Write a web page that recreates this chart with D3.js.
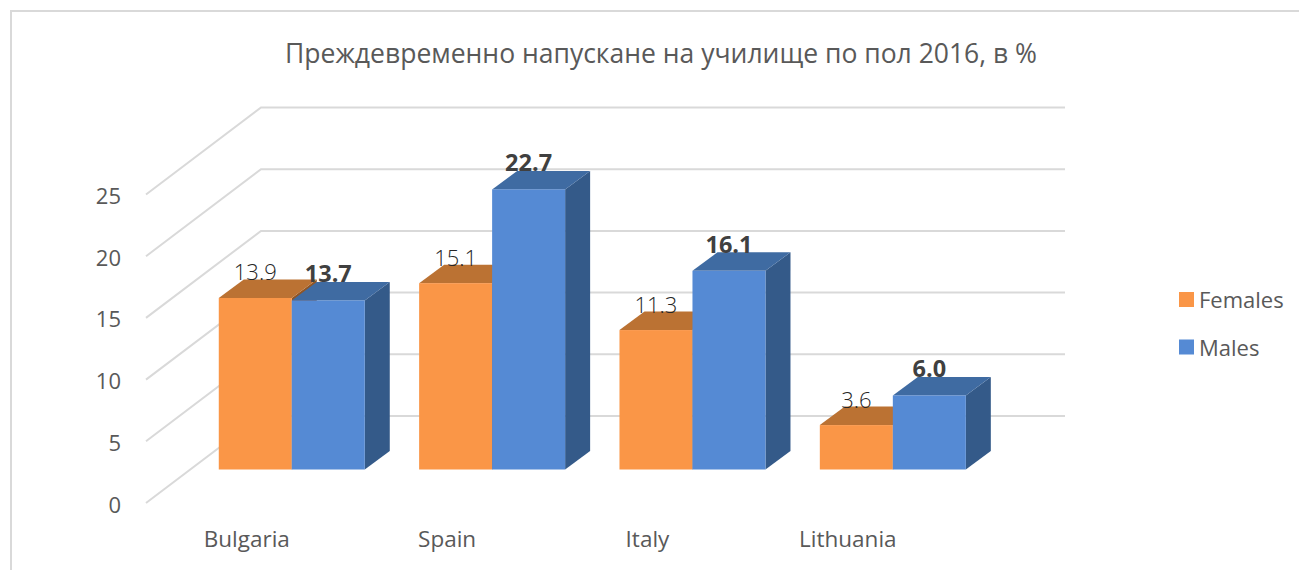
<!DOCTYPE html>
<html>
<head>
<meta charset="utf-8">
<script src="https://cdn.jsdelivr.net/npm/d3@7"></script>
<style>
    html, body { margin: 0; padding: 0; background: #fff; }
    text { font-family: "Open Sans", sans-serif; }
</style>
</head>
<body>
<div id="chart"></div>
<script>
var chartTitle = 'Преждевременно напускане на училище по пол 2016, в %';
var countries = ['Bulgaria', 'Spain', 'Italy', 'Lithuania'];
var females = [13.9, 15.1, 11.3, 3.6];
var males = [13.7, 22.7, 16.1, 6.0];
var seriesNames = ['Females', 'Males'];
var yTicks = [0, 5, 10, 15, 20, 25];

var width = 1299, height = 570;

// front plane of the fake 3d box, the wall sits depth px behind it
var depth = { x: 115, y: -87 };
// bars stand this far back on the floor, and are barDepth deep
var barOffset = { x: 45, y: -33.5 };
var barDepth = { x: 25, y: -18.5 };

var y = d3.scaleLinear().domain([0, 25]).range([503, 194.5]);
var x0 = d3.scaleBand().domain(countries).range([146.6, 948]).padding(0);
var x1 = d3.scaleBand().domain(seriesNames).range([0, 146]);

var colors = {
    Females: { front: '#fa9647', top: '#bb7233', side: '#8f5526' },
    Males: { front: '#558ad4', top: '#3f6ba2', side: '#345a89' }
};

var svg = d3.select('#chart').append('svg')
    .attr('width', width)
    .attr('height', height)
    .style('display', 'block');

// outer chart frame, cropped by the screenshot on right and bottom
svg.append('rect')
    .attr('x', 11)
    .attr('y', 11)
    .attr('width', width)
    .attr('height', height)
    .attr('fill', '#fff')
    .attr('stroke', '#d9d9d9')
    .attr('stroke-width', 2);

svg.append('text')
    .attr('x', 661)
    .attr('y', 63)
    .attr('text-anchor', 'middle')
    .attr('font-size', 26.5)
    .attr('fill', '#595959')
    .text(chartTitle);

// gridlines: diagonal on the side wall, then flat along the back wall
var grid = svg.append('g');
grid.selectAll('path')
    .data(yTicks)
    .enter().append('path')
    .attr('d', function (d) {
        var p = d3.path();
        p.moveTo(146, y(d));
        p.lineTo(146 + depth.x, y(d) + depth.y);
        p.lineTo(1065, y(d) + depth.y);
        return p.toString();
    })
    .attr('fill', 'none')
    .attr('stroke', '#d9d9d9')
    .attr('stroke-width', 2);

svg.append('g').selectAll('text')
    .data(yTicks)
    .enter().append('text')
    .attr('x', 121)
    .attr('y', function (d) { return y(d) + 9.5; })
    .attr('text-anchor', 'end')
    .attr('font-size', 22)
    .attr('fill', '#595959')
    .text(function (d) { return d; });

svg.append('g').selectAll('text')
    .data(countries)
    .enter().append('text')
    .attr('x', function (d) { return x0(d) + x0.bandwidth() / 2; })
    .attr('y', 547)
    .attr('text-anchor', 'middle')
    .attr('font-size', 22.5)
    .attr('fill', '#595959')
    .text(function (d) { return d; });

var rows = [];
countries.forEach(function (c, i) {
    rows.push({ country: c, series: 'Females', value: females[i] });
    rows.push({ country: c, series: 'Males', value: males[i] });
});

function barLeft(d) {
    return x0(d.country) + (x0.bandwidth() - x1.range()[1]) / 2 + x1(d.series) + barOffset.x;
}

var bars = svg.append('g').selectAll('g')
    .data(rows)
    .enter().append('g');

// side face
bars.append('path')
    .attr('d', function (d) {
        var r = barLeft(d) + x1.bandwidth();
        var b = y(0) + barOffset.y;
        var t = y(d.value) + barOffset.y;
        return 'M' + r + ',' + b + 'L' + r + ',' + t +
            'L' + (r + barDepth.x) + ',' + (t + barDepth.y) +
            'L' + (r + barDepth.x) + ',' + (b + barDepth.y) + 'Z';
    })
    .attr('fill', function (d) { return colors[d.series].side; });

// top face
bars.append('path')
    .attr('d', function (d) {
        var l = barLeft(d);
        var r = l + x1.bandwidth();
        var t = y(d.value) + barOffset.y;
        return 'M' + l + ',' + t + 'L' + r + ',' + t +
            'L' + (r + barDepth.x) + ',' + (t + barDepth.y) +
            'L' + (l + barDepth.x) + ',' + (t + barDepth.y) + 'Z';
    })
    .attr('fill', function (d) { return colors[d.series].top; });

// front face
bars.append('rect')
    .attr('x', barLeft)
    .attr('y', function (d) { return y(d.value) + barOffset.y; })
    .attr('width', x1.bandwidth())
    .attr('height', function (d) { return y(0) - y(d.value); })
    .attr('fill', function (d) { return colors[d.series].front; });

svg.append('g').selectAll('text')
    .data(rows)
    .enter().append('text')
    .attr('x', function (d) { return barLeft(d) + x1.bandwidth() / 2; })
    .attr('y', function (d) { return y(d.value) + barOffset.y - (d.series === 'Males' ? 18 : 17.5); })
    .attr('text-anchor', 'middle')
    .attr('font-size', function (d) { return d.series === 'Males' ? 23.5 : 22; })
    .attr('font-weight', function (d) { return d.series === 'Males' ? 700 : 300; })
    .attr('fill', function (d) { return d.series === 'Males' ? '#404040' : '#262626'; })
    .text(function (d) { return d.value.toFixed(1); });

var legend = svg.append('g').selectAll('g')
    .data(seriesNames)
    .enter().append('g')
    .attr('transform', function (d, i) { return 'translate(1179,' + (292 + i * 47.5) + ')'; });

legend.append('rect')
    .attr('width', 15)
    .attr('height', 15)
    .attr('fill', function (d) { return colors[d].front; });

legend.append('text')
    .attr('x', 20)
    .attr('y', 16)
    .attr('font-size', 22)
    .attr('fill', '#595959')
    .text(function (d) { return d; });
</script>
</body>
</html>
